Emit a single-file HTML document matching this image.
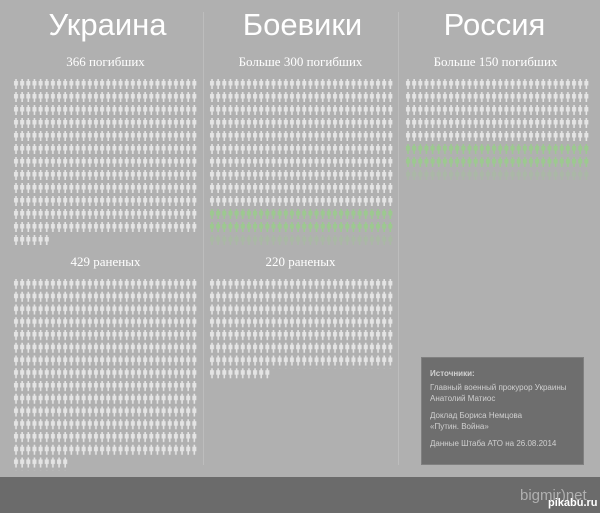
<!DOCTYPE html>
<html><head><meta charset="utf-8"><style>
body{margin:0;width:600px;height:513px;background:#b0b0b0;overflow:hidden;position:relative;font-family:"Liberation Sans",sans-serif}
.t{position:absolute;color:#fff;text-align:center;width:195px;font-size:31px;top:7px}
.s{position:absolute;color:#fff;text-align:center;width:195px;font-family:"Liberation Serif",serif;font-size:13px}
.sep{position:absolute;top:12px;width:1px;height:453px;background:#bdbdbd}
</style></head><body>
<div style="position:absolute;left:0;top:477px;width:600px;height:36px;background:#6b6b6b"></div>
<div class="sep" style="left:203px"></div><div class="sep" style="left:398px"></div>
<div class="t" style="left:10px">Украина</div>
<div class="t" style="left:205px">Боевики</div>
<div class="t" style="left:397px">Россия</div>
<div class="s" style="left:8px;top:54px">366 погибших</div>
<div class="s" style="left:203px;top:54px">Больше 300 погибших</div>
<div class="s" style="left:398px;top:54px">Больше 150 погибших</div>
<div class="s" style="left:8px;top:254px">429 раненых</div>
<div class="s" style="left:203px;top:254px">220 раненых</div>
<svg width="600" height="513" style="position:absolute;left:0;top:0">
<defs>
<path id="p" d="M2.2 0h1.6v2h1.2v4.5h-1.2v3.5h-1.6v-3.5h-1.2v-4.5h1.2z"/>
<pattern id="w" width="6.15" height="13" patternUnits="userSpaceOnUse"><use href="#p" fill="#e4e4e4"/></pattern>
<pattern id="w2" width="6.15" height="12.75" patternUnits="userSpaceOnUse"><use href="#p" fill="#e4e4e4"/></pattern>
<pattern id="g" width="6.15" height="13" patternUnits="userSpaceOnUse"><use href="#p" fill="#9cc98f"/></pattern>
</defs>
<g transform="translate(13,79)"><rect width="184.5" height="156" fill="url(#w)"/><rect y="156" width="36.9" height="13" fill="url(#w)"/></g>
<g transform="translate(209,79)"><rect width="184.5" height="130" fill="url(#w)"/><rect y="130" width="184.5" height="26" fill="url(#g)"/><rect y="156" width="184.5" height="13" fill="url(#g)" opacity="0.35"/></g>
<g transform="translate(405,79)"><rect width="184.5" height="65" fill="url(#w)"/><rect y="65" width="184.5" height="26" fill="url(#g)"/><rect y="91" width="184.5" height="13" fill="url(#g)" opacity="0.3"/></g>
<g transform="translate(13,279)"><rect width="184.5" height="178.5" fill="url(#w2)"/><rect y="178.5" width="55.35" height="12.75" fill="url(#w2)"/></g>
<g transform="translate(209,279)"><rect width="184.5" height="89.25" fill="url(#w2)"/><rect y="89.25" width="61.5" height="12.75" fill="url(#w2)"/></g>
</svg>
<div style="position:absolute;left:421px;top:357px;width:163px;height:108px;background:#6e6e6e;border:1px solid #808080;color:#d0d0d0;font-size:8px;line-height:11px;padding:0 0 0 8px;box-sizing:border-box">
<div style="font-weight:bold;margin-top:10px">Источники:</div>
<div style="margin-top:3px">Главный военный прокурор Украины<br>Анатолий Матиос</div>
<div style="margin-top:6px">Доклад Бориса Немцова<br>«Путин. Война»</div>
<div style="margin-top:6px">Данные Штаба АТО на 26.08.2014</div>
</div>
<div style="position:absolute;left:520px;top:487px;color:#b0b0b0;font-size:15px">bigmir)net</div>
<div style="position:absolute;left:548px;top:497px;color:#fff;font-size:11px;font-weight:bold">pikabu.ru</div>
</body></html>
